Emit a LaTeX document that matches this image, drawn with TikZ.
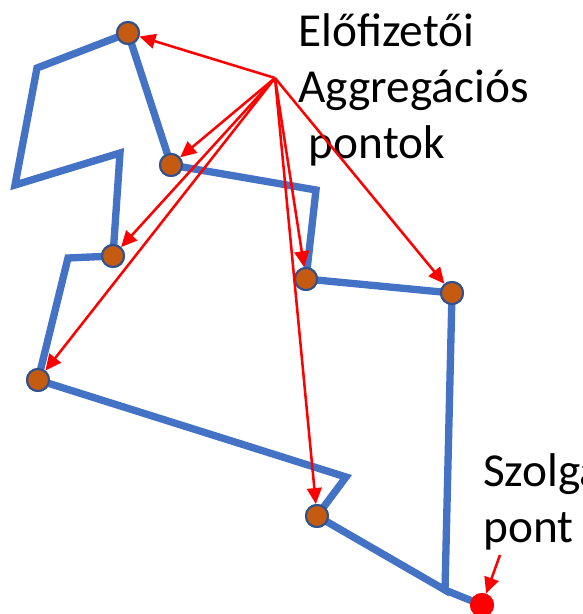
\documentclass[tikz,border=0pt]{standalone}
\usepackage{fontspec}
\setmainfont{Carlito}
\usetikzlibrary{arrows.meta}
\definecolor{ringblue}{HTML}{4472C4}
\definecolor{aggorange}{HTML}{C55A11}
\definecolor{aggedge}{HTML}{2F528F}
\begin{document}
\begin{tikzpicture}[x=0.75pt, y=-0.75pt,
  agg/.style={circle, fill=aggorange, draw=aggedge, line width=1.5pt, minimum size=16.5pt, inner sep=0pt},
  ring/.style={draw=ringblue, line width=5.5pt},
  ptr/.style={-{Triangle[length=12pt, width=11pt]}, red, line width=1.9pt},
  label/.style={anchor=north west, align=left, inner sep=0pt, font=\fontsize{35.5}{42}\selectfont}]
\useasboundingbox (0,0) rectangle (582,614);
\clip (0,0) rectangle (582,614);

% gyuru
\coordinate (k1) at (37,68);
\coordinate (k2) at (15,185);
\coordinate (k3) at (120,153);
\coordinate (k4) at (68,258);
\coordinate (k5) at (346,477);
\coordinate (k6) at (445,590);
\coordinate (k7) at (316,190);

% aggregacios pontok
\node (a1) [agg] at (128,33) {};
\node (a2) [agg] at (171,165) {};
\node (a3) [agg] at (113,256) {};
\node (a4) [agg] at (38,380) {};
\node (a5) [agg] at (306,279) {};
\node (a6) [agg] at (452,293) {};
\node (a7) [agg] at (317,516) {};
\node (szp) [circle, fill=red, minimum size=18pt, inner sep=0pt] at (482,605) {};

\draw[ring] (a1.center) -- (k1) -- (k2) -- (k3) -- (a3.center) -- (k4) -- (a4.center)
  -- (k5) -- (a7.center) -- (k6) -- (a6.center) -- (a5.center) -- (k7) -- (a2.center) -- cycle;
\draw[ring] (k6) -- (szp.center);

% pontok ujra a vonal folott
\foreach \n in {a1,a2,a3,a4,a5,a6,a7}
  \node [agg] at (\n) {};
\node [circle, fill=red, minimum size=18pt, inner sep=0pt] at (szp) {};

% feliratok
\node (aggtext) [label] at (298,13) {Előfizetői\\Aggregációs\\\ pontok};
\node (szptext) [label] at (483,453) {Szolgáltatási\\pont};

% nyilak
\coordinate (src) at (275,78);
\foreach \n in {a1,a2,a3,a4,a5,a6,a7}
  \draw[ptr] (src) -- (\n);
\coordinate (szpfrom) at (500,555);
\draw[ptr] (szpfrom) -- (szp);

\end{tikzpicture}
\end{document}
